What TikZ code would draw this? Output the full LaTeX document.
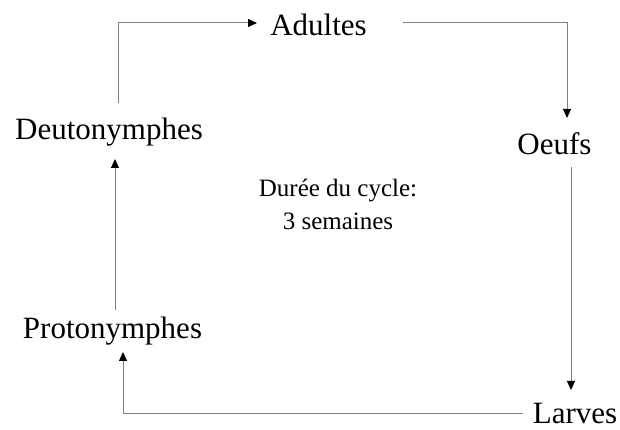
\documentclass[tikz,border=0pt]{standalone}
\usepackage{fontspec}
\setmainfont{Liberation Serif}
\newfontfamily\timesfont{Liberation Serif}
\usetikzlibrary{arrows.meta}
\begin{document}
\begin{tikzpicture}[x=1pt,y=1pt,
  stage/.style={inner sep=0pt,anchor=base,font=\timesfont\fontsize{31}{37}\selectfont},
  note/.style={inner sep=0pt,anchor=base,font=\timesfont\fontsize{25}{33}\selectfont},
  conn/.style={draw=black!50,line width=1pt,-{Triangle[length=9pt,width=8pt,black]}}]
\useasboundingbox (0,0) rectangle (620,430);
\node[stage] (adult) at (318.5,394) {Adultes};
\node[stage] (oeufs) at (554.5,275) {Oeufs};
\node[stage] (larves) at (575,6) {Larves};
\node[stage] (proto) at (112.5,91) {Protonymphes};
\node[stage] (deut) at (109,290) {Deutonymphes};
\node[note] (duree1) at (338,233) {Durée du cycle:};
\node[note] (duree2) at (338,200) {3 semaines};
\draw[conn] ([xshift=2.5pt,yshift=29pt]proto.base) -- ([xshift=6pt,yshift=-19pt]deut.base);
\draw[conn] ([xshift=9pt,yshift=37pt]deut.base) |- ([xshift=-61.5pt,yshift=13pt]adult.base);
\draw[conn] ([xshift=84.5pt,yshift=13pt]adult.base) -| ([xshift=12.5pt,yshift=37pt]oeufs.base);
\draw[conn] ([xshift=16.5pt,yshift=-12pt]oeufs.base) -- ([xshift=-4pt,yshift=34pt]larves.base);
\draw[conn] ([xshift=-52pt,yshift=10pt]larves.base) -| ([xshift=10.5pt,yshift=-13pt]proto.base);
\end{tikzpicture}
\end{document}
